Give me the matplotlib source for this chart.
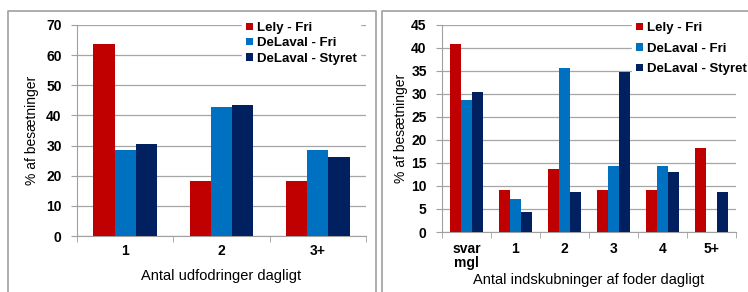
import numpy as np
import matplotlib
matplotlib.use('Agg')
import matplotlib.pyplot as plt
from matplotlib.lines import Line2D
from matplotlib.patches import Patch

plt.rcParams['font.family'] = ['Liberation Sans', 'DejaVu Sans']

series = ['Lely - Fri', 'DeLaval - Fri', 'DeLaval - Styret']
colors = ['#C00000', '#0070C0', '#002060']

cats_left = ['1', '2', '3+']
left_lely = [63.6, 18.2, 18.2]
left_dlfri = [28.6, 42.9, 28.6]
left_dlsty = [30.4, 43.5, 26.1]

cats_right = ['svar\nmgl', '1', '2', '3', '4', '5+']
right_lely = [40.9, 9.1, 13.6, 9.1, 9.1, 18.2]
right_dlfri = [28.6, 7.1, 35.7, 14.3, 14.3, 0.0]
right_dlsty = [30.4, 4.3, 8.7, 34.8, 13.0, 8.7]

W, H = 748, 292
fig = plt.figure(figsize=(W / 100, H / 100), dpi=100)


def px_axes(x0, y0, x1, y1):
    return fig.add_axes([x0 / W, 1 - y1 / H, (x1 - x0) / W, (y1 - y0) / H])


def draw_panel(ax, cats, data, ymax, ystep, xlabel, leg_xy, leg_space,
               xpad, xlpad, ylpad):
    n = len(cats)
    x = np.arange(n)
    bw = 0.22
    for i, vals in enumerate(data):
        ax.bar(x + (i - 1) * bw, vals, bw, color=colors[i], label=series[i], zorder=3)
    ax.set_xlim(-0.5, n - 0.5)
    ax.set_ylim(0, ymax)
    ax.set_yticks(np.arange(0, ymax + 0.1, ystep))
    ax.set_yticklabels([f'{v:g}' for v in np.arange(0, ymax + 0.1, ystep)],
                       fontsize=10, fontweight='bold')
    ax.set_xticks(x)
    ax.set_xticklabels(cats, fontsize=10, fontweight='bold', linespacing=1.05)
    ax.set_xticks(np.arange(-0.5, n, 1.0), minor=True)
    ax.tick_params(axis='x', which='major', length=0, pad=xpad)
    ax.tick_params(axis='x', which='minor', length=4, color='#a0a0a0', direction='out')
    ax.tick_params(axis='y', length=4, color='#a0a0a0', pad=7)
    ax.yaxis.grid(True, color='#a6a6a6', linewidth=0.9, zorder=0)
    for s in ['top', 'right']:
        ax.spines[s].set_visible(False)
    ax.spines['left'].set_color('#a0a0a0')
    ax.spines['bottom'].set_color('#a0a0a0')
    ax.set_xlabel(xlabel, fontsize=10.5, labelpad=xlpad)
    ax.set_ylabel('% af besætninger', fontsize=10, labelpad=ylpad)
    handles = [Patch(facecolor=c, edgecolor='none') for c in colors]
    leg = ax.legend(handles, series, loc='upper left',
                    bbox_to_anchor=(leg_xy[0] / W, 1 - leg_xy[1] / H),
                    bbox_transform=fig.transFigure,
                    frameon=True, fancybox=False, framealpha=1,
                    edgecolor='white', facecolor='white',
                    prop={'size': 9.5, 'weight': 'bold'},
                    handlelength=0.5, handleheight=0.5, handletextpad=0.3,
                    labelspacing=leg_space, borderpad=0.3, borderaxespad=0)
    leg.set_zorder(5)


ax1 = px_axes(77, 25, 366, 236)
draw_panel(ax1, cats_left, [left_lely, left_dlfri, left_dlsty], 70, 10,
           'Antal udfodringer dagligt', (242, 18), 0.25, 6, 8, 5)

ax2 = px_axes(442, 25, 736, 232)
draw_panel(ax2, cats_right, [right_lely, right_dlfri, right_dlsty], 45, 5,
           'Antal indskubninger af foder dagligt', (632, 18), 0.65, 7, 2, 2)

# panel frames
gray = '#a0a0a0'
for (x0, x1) in [(8, 376), (382, 760)]:
    xs = [x0 / W, x0 / W, x1 / W, x1 / W]
    ys = [-0.1, 1 - 11 / H, 1 - 11 / H, -0.1]
    fig.add_artist(Line2D(xs, ys, color=gray, linewidth=1.2))

fig.savefig('out.png', dpi=100)
